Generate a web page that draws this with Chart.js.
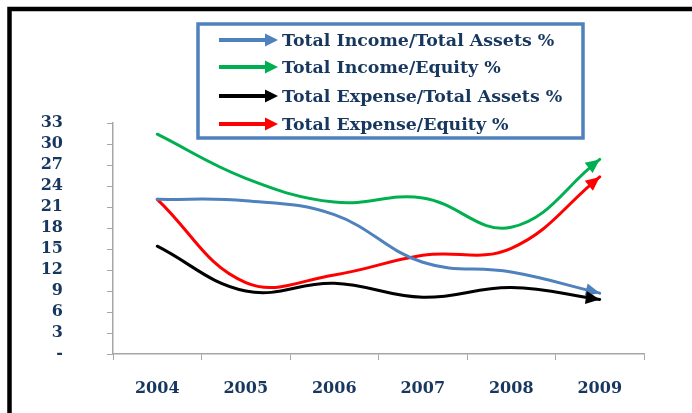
<!DOCTYPE html>
<html lang="en">

<head>
    <meta charset="utf-8" />
    <title>Income / Expense ratios</title>
    <style>
        html, body {
            margin: 0;
            padding: 0;
            background: #ffffff;
        }
    </style>
</head>

<body>
    <canvas id="mychart" width="692" height="413"></canvas>
    <script src="https://cdn.jsdelivr.net/npm/chart.js@4.4.1/dist/chart.umd.min.js"></script>

    <script>
        // data
        const years = ['2004', '2005', '2006', '2007', '2008', '2009'];
        const yTicks = [0, 3, 6, 9, 12, 15, 18, 21, 24, 27, 30, 33];

        const incomeAssets = [22.1, 21.9, 19.9, 13.1, 11.7, 8.7];
        const incomeEquity = [31.4, 25.1, 21.7, 22.3, 18.1, 27.8];
        const expenseAssets = [15.4, 9.0, 10.1, 8.1, 9.5, 7.8];
        const expenseEquity = [22.1, 10.2, 11.3, 14.1, 15.1, 25.3];

        const navy = '#17375E';
        const axisGray = '#A6A6A6';
        const font = '"DejaVu Serif", serif';

        // arrow head at the end of a line, along the curve tangent
        function drawHead(ctx, x, y, dx, dy, len, wid, color) {
            const d = Math.sqrt(dx * dx + dy * dy) || 1;
            const ux = dx / d, uy = dy / d;
            const bx = x - ux * len, by = y - uy * len;
            ctx.beginPath();
            ctx.moveTo(x, y);
            ctx.lineTo(bx - uy * wid / 2, by + ux * wid / 2);
            ctx.lineTo(bx + uy * wid / 2, by - ux * wid / 2);
            ctx.closePath();
            ctx.fillStyle = color;
            ctx.fill();
        }

        const framePlugin = {
            id: 'frame',
            beforeDraw(chart) {
                const ctx = chart.ctx;
                ctx.save();
                ctx.fillStyle = '#ffffff';
                ctx.fillRect(0, 0, chart.width, chart.height);
                ctx.strokeStyle = '#000000';
                ctx.lineWidth = 4.5;
                ctx.strokeRect(9.5, 9, chart.width + 20, chart.height + 20);
                ctx.restore();
            }
        };

        const arrowPlugin = {
            id: 'arrows',
            afterDatasetsDraw(chart) {
                const ctx = chart.ctx;
                ctx.save();
                chart.data.datasets.forEach((ds, i) => {
                    const pts = chart.getDatasetMeta(i).data;
                    const p = pts[pts.length - 1];
                    let dx = p.x - p.cp1x, dy = p.y - p.cp1y;
                    if (!isFinite(dx) || (dx === 0 && dy === 0)) {
                        const q = pts[pts.length - 2];
                        dx = p.x - q.x;
                        dy = p.y - q.y;
                    }
                    drawHead(ctx, p.x, p.y, dx, dy, 14, 13, ds.borderColor);
                });
                ctx.restore();
            }
        };

        // boxed legend with arrow markers
        const legendPlugin = {
            id: 'arrowLegend',
            afterDraw(chart) {
                const ctx = chart.ctx;
                ctx.save();
                ctx.fillStyle = '#ffffff';
                ctx.fillRect(198, 24, 385, 114);
                ctx.strokeStyle = '#4F81BD';
                ctx.lineWidth = 3.5;
                ctx.strokeRect(198, 24, 385, 114);

                const rows = [40, 67, 96, 124];
                ctx.font = 'bold 17.4px ' + font;
                ctx.textBaseline = 'middle';
                ctx.textAlign = 'left';
                chart.data.datasets.forEach((ds, i) => {
                    const y = rows[i];
                    ctx.strokeStyle = ds.borderColor;
                    ctx.lineWidth = 4;
                    ctx.beginPath();
                    ctx.moveTo(219, y);
                    ctx.lineTo(267, y);
                    ctx.stroke();
                    drawHead(ctx, 278, y, 1, 0, 13, 13, ds.borderColor);
                    ctx.fillStyle = navy;
                    ctx.fillText(ds.label, 282, y + 1);
                });
                ctx.restore();
            }
        };

        const mychart = document.getElementById('mychart');

        new Chart(mychart, {
            type: 'line',
            data: {
                labels: years,
                datasets: [{
                    label: 'Total Income/Total Assets %',
                    data: incomeAssets,
                    borderColor: '#4F81BD'
                }, {
                    label: 'Total Income/Equity %',
                    data: incomeEquity,
                    borderColor: '#00B050'
                }, {
                    label: 'Total Expense/Total Assets %',
                    data: expenseAssets,
                    borderColor: '#000000'
                }, {
                    label: 'Total Expense/Equity %',
                    data: expenseEquity,
                    borderColor: '#FF0000'
                }],
            },
            options: {
                responsive: false,
                animation: false,
                devicePixelRatio: 1,
                layout: {
                    padding: { left: 10, right: 48, top: 123, bottom: 0 }
                },
                elements: {
                    line: { tension: 0.4, borderWidth: 3, fill: false, borderCapStyle: 'round' },
                    point: { radius: 0, hoverRadius: 0 }
                },
                datasets: {
                    line: { clip: false }
                },
                plugins: {
                    legend: { display: false },
                    tooltip: { enabled: false }
                },
                scales: {
                    x: {
                        offset: true,
                        grid: {
                            offset: true,
                            drawOnChartArea: false,
                            drawTicks: true,
                            tickLength: 6,
                            color: axisGray
                        },
                        border: { display: true, color: axisGray, width: 1.5 },
                        ticks: {
                            color: navy,
                            padding: 19,
                            font: { family: font, size: 16, weight: 'bold' }
                        },
                        afterFit(scale) {
                            scale.height = 59;
                        }
                    },
                    y: {
                        min: 0,
                        max: 33,
                        afterBuildTicks(scale) {
                            scale.ticks = yTicks.map(v => ({ value: v }));
                        },
                        grid: {
                            drawOnChartArea: false,
                            drawTicks: true,
                            tickLength: 6,
                            color: axisGray
                        },
                        border: { display: true, color: axisGray, width: 1.5 },
                        ticks: {
                            color: navy,
                            padding: 44,
                            autoSkip: false,
                            font: { family: font, size: 16, weight: 'bold', lineHeight: 1 },
                            callback: v => (v === 0 ? '-' : v)
                        },
                        afterFit(scale) {
                            scale.width = 103;
                        }
                    }
                }
            },
            plugins: [framePlugin, arrowPlugin, legendPlugin]
        });
    </script>

</body>

</html>
